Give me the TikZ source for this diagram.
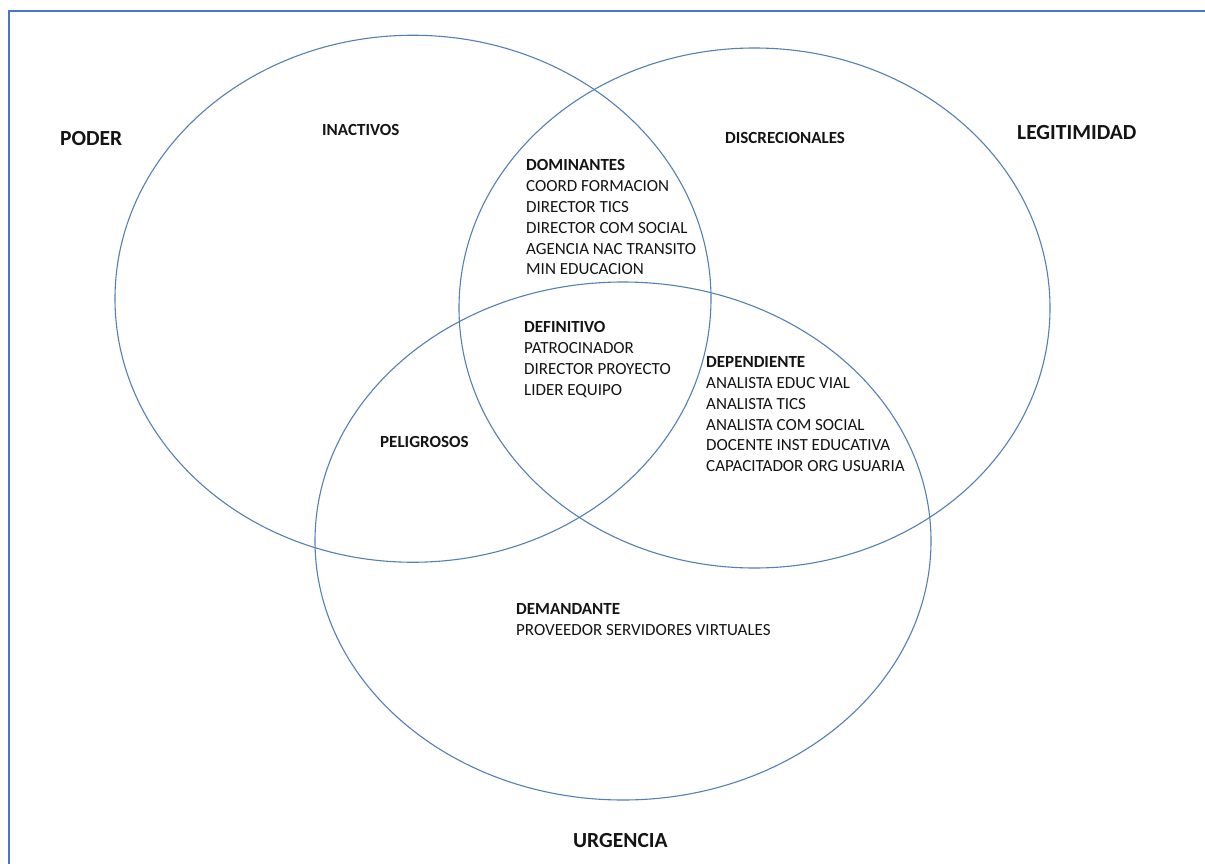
\documentclass[tikz,border=0pt]{standalone}
\usepackage{fontspec}
\setmainfont{Carlito}
\usetikzlibrary{shapes.geometric}
\definecolor{venn}{RGB}{84,128,182}
\definecolor{frame}{RGB}{72,118,206}
\definecolor{txt}{RGB}{20,20,20}
\begin{document}
\begin{tikzpicture}[x=1pt,y=-1pt,
  set/.style={draw=venn,line width=1.1pt,ellipse,inner sep=0pt},
  big/.style={font=\fontsize{21.5}{24}\selectfont\bfseries,text=txt,inner sep=0pt,anchor=west},
  lab/.style={font=\fontsize{17}{20.8}\selectfont,text=txt,inner sep=0pt,anchor=north west,align=left}]
\useasboundingbox (0,0) rectangle (1205,864);
\fill[white] (0,0) rectangle (1205,864);
\draw[frame,line width=2.2pt] (9,864) -- (9,11) -- (1205,11);
\node[set,minimum width=596pt,minimum height=527pt] (poder) at (413,298.75) {};
\node[set,minimum width=591pt,minimum height=520pt] (legit) at (754.5,308) {};
\node[set,minimum width=616pt,minimum height=518pt] (urg) at (623,541) {};
\node[big] (tpoder) at (60,139) {PODER};
\node[big] (tlegit) at (1017,133) {LEGITIMIDAD};
\node[big] (turg) at (573,841) {URGENCIA};
\node[lab] (inact) at (322,124.5) {\textbf{INACTIVOS}};
\node[lab] (discr) at (725,132.5) {\textbf{DISCRECIONALES}};
\node[lab] (pelig) at (380,436.5) {\textbf{PELIGROSOS}};
\node[lab] (domin) at (526,159.5) {\textbf{DOMINANTES}\\COORD FORMACION\\DIRECTOR TICS\\DIRECTOR COM SOCIAL\\AGENCIA NAC TRANSITO\\MIN EDUCACION};
\node[lab] (defin) at (524,321.5) {\textbf{DEFINITIVO}\\PATROCINADOR\\DIRECTOR PROYECTO\\LIDER EQUIPO};
\node[lab] (depen) at (706,356.5) {\textbf{DEPENDIENTE}\\ANALISTA EDUC VIAL\\ANALISTA TICS\\ANALISTA COM SOCIAL\\DOCENTE INST EDUCATIVA\\CAPACITADOR ORG USUARIA};
\node[lab] (deman) at (516,603.5) {\textbf{DEMANDANTE}\\PROVEEDOR SERVIDORES VIRTUALES};
\end{tikzpicture}
\end{document}
